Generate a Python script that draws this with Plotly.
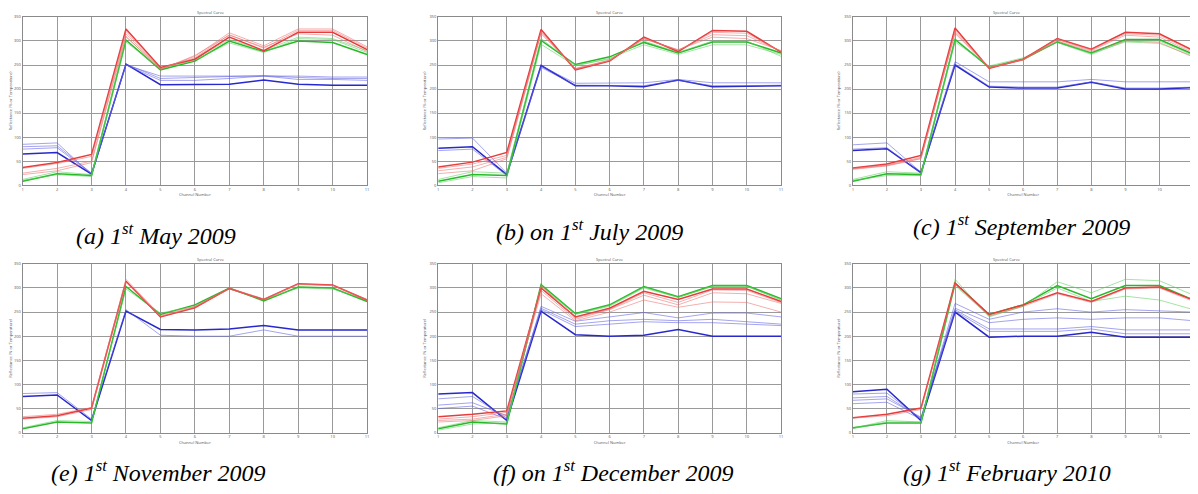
import plotly.graph_objects as go

CHANNELS = [1, 2, 3, 4, 5, 6, 7, 8, 9, 10, 11]
Y_TICKS = [0, 50, 100, 150, 200, 250, 300, 350]
CAPTIONS = [
    "(a) 1<sup>st</sup> May 2009",
    "(b) on 1<sup>st</sup> July 2009",
    "(c) 1<sup>st</sup> September 2009",
    "(e) 1<sup>st</sup> November 2009",
    "(f) on 1<sup>st</sup> December 2009",
    "(g) 1<sup>st</sup> February 2010",
]

# ---- panel (a) ----
A_RED = [
    [37, 47, 64, 325, 245, 262, 308, 280, 318, 318, 282],
    [35, 45, 60, 320, 243, 265, 313, 285, 322, 322, 285],
    [25, 35, 50, 315, 242, 268, 317, 290, 325, 325, 288],
    [22, 30, 47, 310, 240, 270, 312, 287, 315, 312, 278],
]
A_GREEN = [
    [8, 24, 20, 302, 240, 258, 300, 278, 300, 297, 272],
    [10, 22, 18, 298, 242, 260, 296, 276, 305, 303, 276],
    [12, 28, 22, 308, 244, 262, 303, 280, 308, 305, 280],
]
A_BLUE = [
    [65, 68, 23, 252, 209, 210, 210, 219, 210, 208, 208],
    [75, 78, 24, 250, 218, 218, 222, 227, 220, 220, 218],
    [80, 82, 25, 252, 222, 224, 226, 228, 224, 222, 222],
    [85, 88, 22, 250, 227, 227, 228, 228, 227, 225, 225],
]

# ---- panel (b) ----
B_RED = [
    [38, 48, 68, 324, 240, 258, 308, 278, 322, 320, 277],
    [35, 44, 62, 320, 241, 259, 306, 280, 318, 316, 278],
    [30, 38, 58, 318, 242, 260, 305, 281, 313, 311, 279],
    [24, 30, 55, 315, 243, 260, 304, 282, 308, 305, 280],
]
B_GREEN = [
    [8, 22, 20, 301, 251, 267, 297, 275, 298, 298, 275],
    [5, 18, 15, 293, 248, 264, 292, 272, 292, 292, 272],
    [12, 28, 25, 305, 250, 262, 300, 276, 300, 300, 268],
]
B_BLUE = [
    [77, 80, 22, 249, 207, 207, 205, 219, 205, 206, 207],
    [72, 75, 20, 245, 208, 208, 207, 218, 207, 207, 208],
    [96, 98, 25, 248, 212, 212, 213, 220, 213, 213, 213],
]

# ---- panel (c) ----
C_RED = [
    [36, 44, 62, 327, 243, 262, 305, 283, 318, 315, 280],
    [35, 42, 58, 322, 244, 262, 304, 282, 315, 312, 278],
    [33, 40, 55, 318, 245, 261, 303, 280, 312, 308, 275],
    [34, 41, 56, 316, 244, 260, 300, 278, 300, 297, 266],
]
C_GREEN = [
    [8, 24, 22, 303, 245, 262, 298, 275, 303, 303, 272],
    [10, 20, 20, 298, 248, 265, 297, 272, 300, 300, 270],
    [12, 28, 25, 305, 246, 263, 300, 274, 298, 295, 268],
]
C_BLUE = [
    [72, 76, 26, 250, 204, 202, 202, 214, 200, 200, 203],
    [84, 88, 27, 257, 215, 215, 215, 220, 215, 215, 215],
    [75, 78, 25, 252, 206, 204, 204, 215, 202, 202, 204],
]

# ---- panel (e) ----
E_RED = [
    [30, 35, 51, 314, 240, 259, 299, 276, 309, 306, 275],
    [33, 38, 52, 318, 243, 262, 300, 277, 308, 306, 276],
    [28, 33, 48, 312, 241, 260, 298, 275, 307, 305, 274],
]
E_GREEN = [
    [8, 22, 20, 303, 245, 265, 300, 273, 302, 300, 272],
    [10, 25, 23, 298, 248, 262, 298, 276, 300, 298, 275],
]
E_BLUE = [
    [75, 78, 25, 252, 214, 213, 215, 222, 213, 213, 213],
    [81, 83, 28, 255, 202, 200, 200, 213, 200, 200, 200],
]

# ---- panel (f) ----
F_RED = [
    [33, 38, 45, 300, 240, 258, 293, 276, 298, 298, 272],
    [28, 33, 42, 295, 235, 255, 285, 265, 290, 288, 268],
    [25, 28, 38, 288, 232, 250, 275, 260, 271, 270, 250],
    [22, 25, 35, 305, 238, 256, 290, 270, 296, 295, 270],
]
F_GREEN = [
    [8, 22, 18, 307, 247, 265, 303, 282, 305, 305, 278],
    [5, 18, 20, 302, 245, 262, 300, 280, 303, 303, 275],
    [10, 25, 22, 305, 246, 264, 302, 281, 304, 304, 276],
]
F_BLUE = [
    [80, 83, 25, 252, 203, 200, 202, 214, 200, 200, 200],
    [70, 75, 30, 255, 220, 225, 230, 228, 228, 225, 222],
    [57, 62, 35, 258, 225, 232, 235, 232, 235, 230, 225],
    [50, 55, 28, 262, 231, 240, 249, 238, 248, 248, 240],
]

# ---- panel (g) ----
G_RED = [
    [31, 38, 51, 310, 245, 265, 290, 272, 300, 302, 275],
    [30, 35, 48, 308, 242, 262, 288, 270, 298, 300, 272],
]
G_GREEN = [
    [10, 20, 20, 310, 245, 265, 305, 278, 305, 305, 275],
    [8, 22, 22, 318, 240, 262, 313, 290, 318, 315, 285],
    [9, 25, 22, 305, 242, 263, 300, 272, 283, 275, 255],
]
G_BLUE = [
    [85, 90, 25, 250, 198, 200, 200, 208, 198, 198, 198],
    [80, 82, 28, 252, 210, 210, 210, 215, 205, 205, 205],
    [72, 75, 30, 255, 215, 215, 215, 220, 213, 213, 213],
    [67, 70, 32, 258, 228, 235, 238, 235, 238, 238, 232],
    [60, 63, 28, 268, 235, 250, 257, 250, 255, 252, 250],
]

PANELS = [
    (A_BLUE, A_GREEN, A_RED),
    (B_BLUE, B_GREEN, B_RED),
    (C_BLUE, C_GREEN, C_RED),
    (E_BLUE, E_GREEN, E_RED),
    (F_BLUE, F_GREEN, F_RED),
    (G_BLUE, G_GREEN, G_RED),
]

# The page body has an 8px default margin; the figure is sized so that it
# ends exactly at the window edge, and reference pixel positions are offset.
OFF = 8
W, H = 1198 - OFF, 494 - OFF
X_PIX = [(21.7, 367.0), (438.3, 782.0), (854.0, 1195.5)]
Y_PIX = [(14.0, 184.0), (263.5, 434.0)]
CAP_X = [155, 590, 1023, 157, 614, 1009]
CAP_Y = [233, 229, 224, 473, 473, 473]


def px(v):
    return (v - OFF) / W


def py(v):
    return 1 - (v - OFF) / H


STRONG = {"blue": "rgb(40,40,205)", "green": "rgb(40,185,40)", "red": "rgb(232,60,60)"}
LIGHT = {"blue": "rgba(90,90,225,0.55)", "green": "rgba(90,205,90,0.55)", "red": "rgba(235,110,110,0.55)"}

fig = go.Figure()
for i, (blue, green, red) in enumerate(PANELS):
    r, c = divmod(i, 3)
    n = i + 1
    xa = "x" if n == 1 else f"x{n}"
    ya = "y" if n == 1 else f"y{n}"
    for name, group in (("blue", blue), ("green", green), ("red", red)):
        for k, series in enumerate(group):
            fig.add_trace(go.Scatter(
                x=CHANNELS, y=series, mode="lines", xaxis=xa, yaxis=ya,
                line=dict(color=STRONG[name] if k == 0 else LIGHT[name],
                          width=1.5 if k == 0 else 1.0),
                showlegend=False, hoverinfo="skip",
            ))
    x0, x1 = X_PIX[c]
    y0, y1 = Y_PIX[r]
    ax = dict(
        domain=[px(x0), px(x1)], range=[1, 11], tickvals=CHANNELS,
        showgrid=True, gridcolor="#9a9a9a", gridwidth=1,
        showline=True, linecolor="#8a8a8a", linewidth=1, mirror=True,
        zeroline=False, ticks="", tickfont=dict(size=4, color="#555"),
        title=dict(text="Channel Number", font=dict(size=4, color="#555"), standoff=2),
        anchor=ya,
    )
    ay = dict(
        domain=[py(y1), py(y0)], range=[0, 350], tickvals=Y_TICKS,
        showgrid=True, gridcolor="#9a9a9a", gridwidth=1,
        showline=True, linecolor="#8a8a8a", linewidth=1, mirror=True,
        zeroline=False, ticks="", tickfont=dict(size=4, color="#555"),
        title=dict(text="Reflectance (% or Temperature)", font=dict(size=4, color="#555"), standoff=3),
        anchor=xa,
    )
    fig.update_layout({("xaxis" if n == 1 else f"xaxis{n}"): ax,
                       ("yaxis" if n == 1 else f"yaxis{n}"): ay})
    fig.add_annotation(
        x=px((x0 + x1) / 2), y=py(y0 - 4), xref="paper", yref="paper",
        text="Spectral Curve", showarrow=False, font=dict(size=4, color="#555"),
        yanchor="middle",
    )
    fig.add_annotation(
        x=px(CAP_X[i]), y=py(CAP_Y[i]), xref="paper", yref="paper",
        text=f"<i>{CAPTIONS[i]}</i>", showarrow=False,
        font=dict(family="Liberation Serif, Times New Roman, serif", size=24, color="black"),
        xanchor="center", yanchor="middle",
    )

fig.update_layout(
    width=W, height=H, margin=dict(l=0, r=0, t=0, b=0),
    paper_bgcolor="white", plot_bgcolor="white",
)
fig.write_html("out.html")
